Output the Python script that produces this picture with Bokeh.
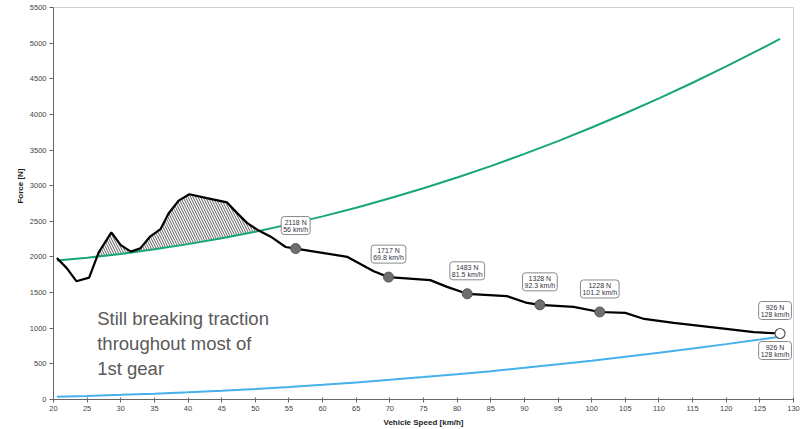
import numpy as np
from bokeh.plotting import figure
from bokeh.models import Label, Range1d, FixedTicker, Title
from bokeh.embed import file_html
from bokeh.resources import INLINE

# ---------------- data ----------------
# Tractive force at the wheels (black curve), km/h vs N
speed_tractive = [20.5, 22.0, 23.4, 25.3, 26.7, 28.6, 30.0, 31.5, 32.9, 34.4, 35.9,
                  37.1, 38.6, 40.2, 42.8, 45.8, 47.3, 48.8, 50.5, 52.3, 54.5, 56.0,
                  63.7, 67.6, 69.8, 76.0, 78.5, 81.5, 87.4, 90.4, 92.3, 97.3, 101.2,
                  105.0, 107.8, 112.2, 118.7, 124.1, 128.0]
force_tractive = [1985, 1840, 1660, 1710, 2060, 2345, 2165, 2075, 2120, 2290, 2390,
                  2610, 2790, 2880, 2825, 2765, 2615, 2475, 2370, 2285, 2140, 2118,
                  2000, 1800, 1717, 1675, 1580, 1483, 1450, 1355, 1328, 1300, 1228,
                  1215, 1130, 1075, 1005, 945, 926]

# Speeds for the two smooth curves
speed_curve = [20.5, 25, 30, 35, 40, 45, 50, 55, 60, 65, 70, 75, 80, 85, 90, 95,
               100, 105, 110, 115, 120, 125, 128]
# Traction limit (green curve)
force_green = [1950, 1990, 2043, 2107, 2180, 2262, 2355, 2457, 2569, 2691, 2823, 2964,
               3115, 3275, 3446, 3626, 3816, 4016, 4225, 4444, 4673, 4912, 5060]
# Driving resistance (blue curve)
force_blue = [39, 50, 65, 82, 101, 124, 149, 177, 207, 240, 276, 314, 355, 398, 445,
              494, 545, 599, 656, 715, 777, 842, 882]

# Shift points with callouts
point_speed = [56, 69.8, 81.5, 92.3, 101.2]
point_force = [2118, 1717, 1483, 1328, 1228]
point_labels = ["2118 N\n56 km/h", "1717 N\n69.8 km/h", "1483 N\n81.5 km/h",
                "1328 N\n92.3 km/h", "1228 N\n101.2 km/h"]
end_speed = [128]
end_force = [926]
end_label = "926 N\n128 km/h"

note_text = "Still breaking traction\nthroughout most of\n1st gear"
x_ticks = list(range(20, 135, 5))
y_ticks = list(range(0, 6000, 500))

# ---------------- figure ----------------
FONT = "Liberation Sans"
p = figure(width=800, height=429, output_backend="svg", toolbar_location=None,
           x_range=Range1d(20, 130), y_range=Range1d(0, 5500),
           min_border_left=53, min_border_right=7, min_border_top=7,
           min_border_bottom=30)
p.grid.visible = False
p.outline_line_color = "#cfcfcf"
p.background_fill_color = "white"
p.border_fill_color = "white"

for ax in (p.xaxis[0], p.yaxis[0]):
    ax.axis_line_color = "#666666"
    ax.major_tick_line_color = "#666666"
    ax.minor_tick_line_color = None
    ax.major_label_text_font = FONT
    ax.major_label_text_font_size = "7.5px"
    ax.major_label_text_color = "#444444"
    ax.axis_label_text_font = FONT
    ax.axis_label_text_font_style = "bold"
    ax.axis_label_text_font_size = "8px"
    ax.axis_label_text_color = "#222222"

p.xaxis.ticker = FixedTicker(ticks=x_ticks)
p.yaxis.ticker = FixedTicker(ticks=y_ticks)
p.xaxis.major_tick_in = 2
p.xaxis.major_tick_out = 3
p.xaxis.major_label_standoff = 3
p.xaxis.axis_label = "Vehicle Speed [km/h]"
p.xaxis.axis_label_standoff = 4
p.yaxis.major_tick_in = 0
p.yaxis.major_tick_out = 4
p.yaxis.major_label_standoff = 3

# y axis title (slightly above the centre, as in the reference)
p.add_layout(Title(text="Force [N]", align="right", offset=161,
                   text_font=FONT, text_font_style="bold", text_font_size="8px",
                   text_color="#222222", standoff=4), "left")

# ---------------- hatched area (tractive force above traction limit) ----------------
bx = np.array(speed_tractive, dtype=float)
by = np.array(force_tractive, dtype=float)
gx = np.array(speed_curve, dtype=float)
gy = np.array(force_green, dtype=float)
lo, hi = 24.0, 54.0
grid = sorted(set([v for v in bx if lo <= v <= hi] + [v for v in gx if lo <= v <= hi]))
grid = np.array(grid)
bi = np.interp(grid, bx, by)
gi = np.interp(grid, gx, gy)
d = bi - gi
xs = []
for i in range(len(grid) - 1):
    xs.append(grid[i])
    if d[i] * d[i + 1] < 0:
        t = d[i] / (d[i] - d[i + 1])
        xs.append(grid[i] + t * (grid[i + 1] - grid[i]))
xs.append(grid[-1])
xs = np.array(xs)
top = np.interp(xs, bx, by)
bot = np.interp(xs, gx, gy)
p.varea(x=xs, y1=bot, y2=np.maximum(top, bot), fill_alpha=0,
        hatch_pattern="left_diagonal_line", hatch_color="#333333",
        hatch_weight=0.8, hatch_scale=5)

# ---------------- curves ----------------
p.line(speed_curve, force_green, line_color="#17a57a", line_width=2)
p.line(speed_curve, force_blue, line_color="#45b1ea", line_width=2)
p.line(speed_tractive, force_tractive, line_color="#000000", line_width=2.2)

p.scatter(point_speed, point_force, size=10, fill_color="#6e6e6e",
          line_color="#555555", line_width=1)
p.scatter(end_speed, end_force, size=10, fill_color="white",
          line_color="#555555", line_width=1.2)

# ---------------- callouts ----------------
def callout(x, y, text, x_off=0, y_off=14, baseline="bottom"):
    p.add_layout(Label(x=x, y=y, text=text, x_offset=x_off, y_offset=y_off,
                       text_align="center", text_baseline=baseline,
                       text_font=FONT, text_font_size="7px", text_color="#333344",
                       text_line_height=1.0,
                       background_fill_color="white",
                       border_line_color="#8a8a8a", border_line_width=1,
                       border_radius=3, padding=2))

for sx, fy, txt in zip(point_speed, point_force, point_labels):
    callout(sx, fy, txt)
callout(end_speed[0], end_force[0], end_label, x_off=-5, y_off=14)
callout(end_speed[0], end_force[0], end_label, x_off=-5, y_off=-8, baseline="top")

# ---------------- note ----------------
p.add_layout(Label(x=26.5, y=1277, text=note_text, text_align="left",
                   text_baseline="top", text_font=FONT, text_font_size="18.5px",
                   text_color="#595959", text_line_height=1.17))

open("out.html", "w").write(file_html(p, INLINE))
